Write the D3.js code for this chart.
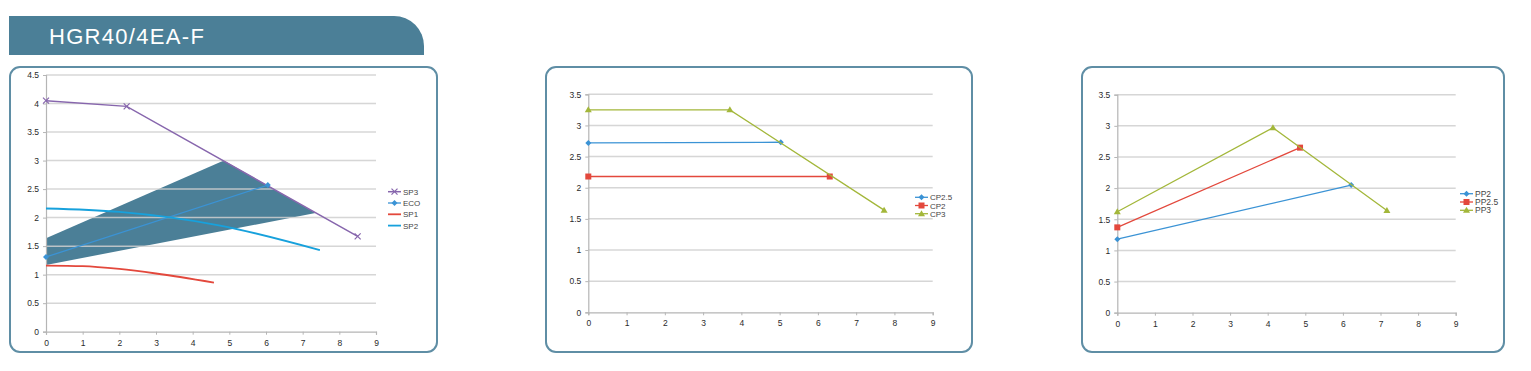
<!DOCTYPE html>
<html><head><meta charset="utf-8">
<script src="https://cdn.jsdelivr.net/npm/d3@7"></script>
<style>body{margin:0;background:#fff;}svg{display:block;font-family:"Liberation Sans",Arial,sans-serif;}</style>
</head><body>
<svg id="c" width="1531" height="371"></svg>
<script>
// ---------- data ----------
const title = "HGR40/4EA-F";
const xTicks = [0,1,2,3,4,5,6,7,8,9];
const yTicksA = [0,0.5,1,1.5,2,2.5,3,3.5,4,4.5];
const yTicksB = [0,0.5,1,1.5,2,2.5,3,3.5];

// panel 1
const band = [[0,1.64],[4.85,3.0],[7.35,2.08],[0,1.17]];
const sp3 = [[0,4.05],[2.2,3.95],[8.5,1.67]];
const eco = [[0,1.31],[6.05,2.57]];
const sp1 = [[0,1.16],[1,1.15],[2,1.1],[3,1.02],[4.58,0.86]];
const sp2 = [[0,2.16],[2,2.1],[4.75,1.86],[7.47,1.43]];
const legend1 = ["SP3","ECO","SP1","SP2"];
// panel 2
const cp25 = [[0,2.72],[5.03,2.73]];
const cp2 = [[0,2.18],[6.31,2.18]];
const cp3 = [[0,3.25],[3.7,3.25],[7.73,1.64]];
const legend2 = ["CP2.5","CP2","CP3"];
// panel 3
const pp2 = [[0,1.18],[6.22,2.05]];
const pp25 = [[0,1.37],[4.86,2.65]];
const pp3 = [[0,1.62],[4.14,2.97],[7.17,1.64]];
const legend3 = ["PP2","PP2.5","PP3"];

// ---------- styles ----------
const C = {teal:"#4b7f97", border:"#5f8ea5", purple:"#8766ad", blue:"#3b93d5", red:"#e3483c", cyan:"#17a1dc", green:"#a3b73a", grid:"#cfcfcf", axis:"#b5b5b5", text:"#2a2a2a"};

const svg = d3.select("#c");

// header
svg.append("path").attr("d","M9,16 H394 A30,30 0 0 1 424,46 V55 H9 Z").attr("fill",C.teal);
svg.append("text").attr("x",49).attr("y",43.5).attr("fill","#fff").attr("font-size",22).attr("letter-spacing",1.3).text(title);

function marker(g, type, x, y, color){
  if(type==="diamond"){
    g.append("path").attr("d",`M${x},${y-3} L${x+3},${y} L${x},${y+3} L${x-3},${y} Z`).attr("fill",color);
  } else if(type==="square"){
    g.append("rect").attr("x",x-3).attr("y",y-3).attr("width",6).attr("height",6).attr("fill",color);
  } else if(type==="triangle"){
    g.append("path").attr("d",`M${x},${y-3.5} L${x+3.5},${y+2.5} L${x-3.5},${y+2.5} Z`).attr("fill",color);
  } else if(type==="x"){
    g.append("path").attr("d",`M${x-3},${y-3} L${x+3},${y+3} M${x-3},${y+3} L${x+3},${y-3}`).attr("stroke",color).attr("stroke-width",1.2);
  }
}

function panel(cfg){
  const g = svg.append("g");
  g.append("rect").attr("x",cfg.box[0]).attr("y",cfg.box[1]).attr("width",cfg.box[2]).attr("height",cfg.box[3])
    .attr("rx",10).attr("fill","#fff").attr("stroke",C.border).attr("stroke-width",2);
  const x = d3.scaleLinear().domain([0,9]).range(cfg.xr);
  const y = d3.scaleLinear().domain([0,cfg.ymax]).range(cfg.yr);
  // band (behind grid)
  if(cfg.band){
    g.append("path").attr("d",d3.line().x(d=>x(d[0])).y(d=>y(d[1]))(cfg.band)+"Z").attr("fill",C.teal);
  }
  // grid
  g.selectAll(".gl").data(cfg.yTicks.filter(d=>d>0)).join("line")
    .attr("x1",cfg.xr[0]).attr("x2",cfg.xr[1]).attr("y1",d=>y(d)).attr("y2",d=>y(d))
    .attr("stroke",C.grid).attr("stroke-opacity",0.85).attr("stroke-width",1.5);
  // axes
  const ya = g.append("g").attr("transform",`translate(${cfg.xr[0]},0)`)
    .call(d3.axisLeft(y).tickValues(cfg.yTicks).tickSize(3).tickPadding(4).tickFormat(d3.format("")));
  const xa = g.append("g").attr("transform",`translate(0,${cfg.yr[0]})`)
    .call(d3.axisBottom(x).tickValues(xTicks).tickSize(3).tickPadding(5).tickFormat(d3.format("d")));
  [ya,xa].forEach(a=>{
    a.select(".domain").attr("stroke",C.axis).attr("stroke-width",1.2);
    a.selectAll(".tick line").attr("stroke",C.axis);
    a.selectAll("text").attr("fill",C.text).attr("font-size",8.5).attr("font-family","Liberation Sans, Arial, sans-serif");
  });
  // series
  cfg.series.forEach(s=>{
    const line = d3.line().x(d=>x(d[0])).y(d=>y(d[1])).curve(s.smooth?d3.curveMonotoneX:d3.curveLinear);
    g.append("path").attr("d",line(s.data)).attr("fill","none").attr("stroke",s.color).attr("stroke-width",s.w||1.3);
    if(s.marker) s.data.forEach(d=>marker(g,s.marker,x(d[0]),y(d[1]),s.color));
  });
  // legend
  cfg.legend.forEach((name,i)=>{
    const s = cfg.series.find(t=>t.name===name);
    const ly = cfg.leg[1] + i*cfg.leg[2];
    g.append("line").attr("x1",cfg.leg[0]).attr("x2",cfg.leg[0]+13).attr("y1",ly).attr("y2",ly).attr("stroke",s.color).attr("stroke-width",s.w||1.3);
    if(s.marker) marker(g,s.marker,cfg.leg[0]+6.5,ly,s.color);
    g.append("text").attr("x",cfg.leg[0]+15).attr("y",ly+3).attr("font-size",cfg.lfs||8).attr("fill","#444").text(name);
  });
}

panel({box:[10,67,427,285], xr:[46,376], yr:[331.7,75], ymax:4.5, yTicks:yTicksA, band:band,
  series:[
    {name:"SP3", data:sp3, color:C.purple, marker:"x", w:1.5},
    {name:"ECO", data:eco, color:C.blue, marker:"diamond", w:1.3},
    {name:"SP1", data:sp1, color:C.red, smooth:true, w:1.8},
    {name:"SP2", data:sp2, color:C.cyan, smooth:true, w:1.8}
  ], legend:legend1, leg:[388,191.7,11.3], lfs:8});

panel({box:[546,67,426,285], xr:[588.3,932.7], yr:[312.3,94.3], ymax:3.5, yTicks:yTicksB,
  series:[
    {name:"CP2.5", data:cp25, color:C.blue, marker:"diamond"},
    {name:"CP2", data:cp2, color:C.red, marker:"square"},
    {name:"CP3", data:cp3, color:C.green, marker:"triangle"}
  ], legend:legend2, leg:[915,197.3,8.2], lfs:8});

panel({box:[1082,67,422,285], xr:[1117.3,1455.7], yr:[312.7,94.7], ymax:3.5, yTicks:yTicksB,
  series:[
    {name:"PP2", data:pp2, color:C.blue, marker:"diamond"},
    {name:"PP2.5", data:pp25, color:C.red, marker:"square"},
    {name:"PP3", data:pp3, color:C.green, marker:"triangle"}
  ], legend:legend3, leg:[1460,193.7,8.3], lfs:8.5});
</script>
</body></html>
